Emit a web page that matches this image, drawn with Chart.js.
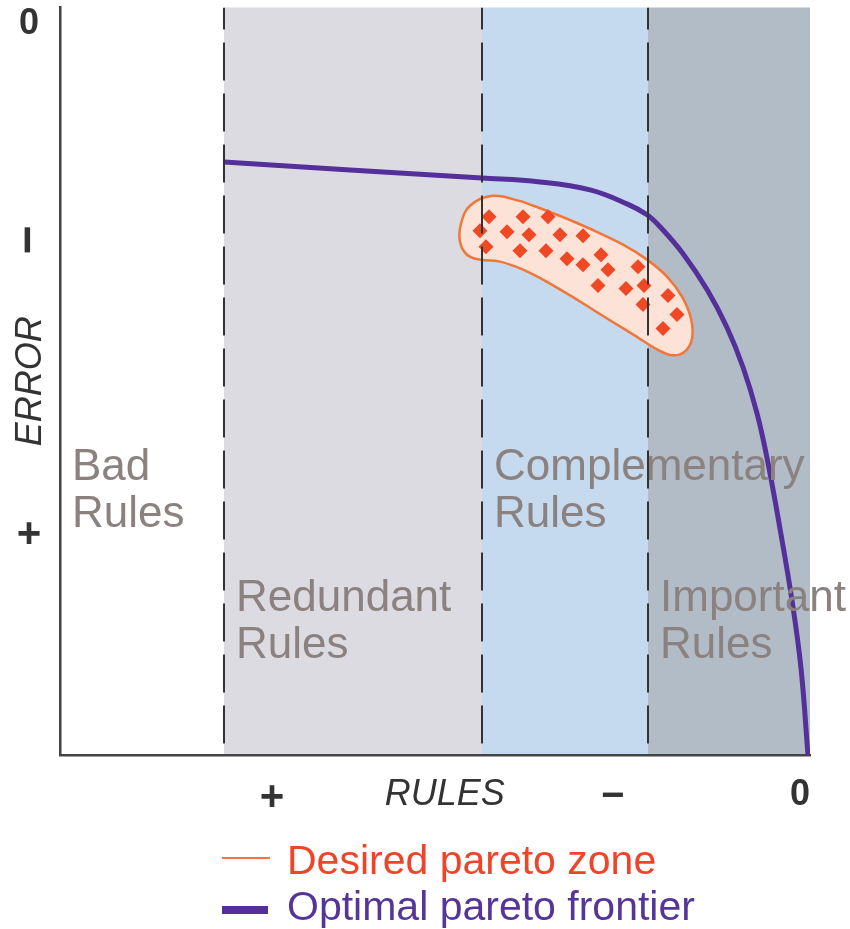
<!DOCTYPE html>
<html>
<head>
<meta charset="utf-8">
<script src="https://cdn.jsdelivr.net/npm/chart.js@4/dist/chart.umd.min.js"></script>
<style>
  body { margin: 0; background: #fff; }
  #wrap { width: 850px; height: 929px; }
</style>
</head>
<body>
<div id="wrap"><canvas id="paretoChart" width="850" height="929"></canvas></div>
<script>
// zones along the RULES axis (0 = left edge, 100 = right edge)
const zoneEdges = [0, 21.87, 56.27, 78.4, 100];
const zoneNames = [['Bad', 'Rules'], ['Redundant', 'Rules'], ['Complementary', 'Rules'], ['Important', 'Rules']];
const zoneLabelY = [38.4, 20.9, 38.4, 20.9];
const dividers = [21.87, 56.27, 78.4];

// tick labels
const xTickValues = [28.27, 51.3, 73.7, 98.67];
const xTickLabels = ['+', 'RULES', '\u2212', '0'];
const yTickValues = [98, 68.9, 29.6];
const yTickLabels = ['0', '\u2212', '+'];

// optimal pareto frontier
const frontierX = [21.87, 38.67, 56.27, 64, 70.67, 75.6, 78.27, 80, 83.07, 86.27, 88.93, 91.07, 92.93, 94.4, 96, 97.6, 98.8, 99.73];
const frontierY = [79.33, 78.27, 77.2, 76.67, 75.6, 73.73, 72.27, 70.67, 67.07, 62.27, 57.2, 51.87, 45.73, 39.07, 30.27, 20.67, 11.6, 0];

// desired pareto zone outline (closed)
const zoneOutlineX = [61.73, 66.27, 70.67, 75.07, 78.27, 80.93, 82.93, 84.13, 84.27, 83.33, 81.73, 79.6, 76.4, 72.93, 69.33, 65.33, 61.73, 58.67, 56, 54.27, 53.33, 53.47, 54.67, 57.73, 61.73];
const zoneOutlineY = [74, 72.27, 70.4, 68.27, 66.27, 64, 61.33, 58.4, 55.73, 54, 53.47, 54.27, 56.27, 58.4, 60.67, 63.07, 64.93, 66, 66.27, 66.93, 68.67, 71.07, 73.47, 74.8, 74];

// rule sets inside the desired zone
const ruleX = [57.2, 61.73, 65.07, 56, 59.6, 62.53, 66.67, 69.73, 56.8, 61.33, 64.8, 67.6, 69.73, 72.13, 73.07, 77.07, 71.73, 75.47, 77.87, 77.73, 81.07, 82.27, 80.4];
const ruleY = [72, 72, 72, 70.13, 70, 69.6, 69.6, 69.47, 68, 67.47, 67.47, 66.4, 65.6, 66.93, 64.93, 65.33, 62.8, 62.4, 62.8, 60.27, 61.47, 58.93, 57.07];

const zoneColors = ['rgba(0,0,0,0)', '#dcdbe1', '#c5daee', '#b1bcc7'];
const FONT = "'Liberation Sans', Arial, sans-serif";

const toPoints = (xs, ys) => xs.map((x, i) => ({ x: x, y: ys[i] }));

const paretoPlugin = {
    id: 'pareto',
    beforeDraw(chart) {
        const { ctx, chartArea: a, scales: { x } } = chart;
        ctx.save();
        zoneColors.forEach((c, i) => {
            const l = x.getPixelForValue(zoneEdges[i]);
            const r = x.getPixelForValue(zoneEdges[i + 1]);
            ctx.fillStyle = c;
            ctx.fillRect(l, a.top, r - l, a.bottom - a.top);
        });
        ctx.restore();
    },
    afterDatasetDraw(chart, args) {
        // zone names sit above the curve but under the dashed dividers
        if (args.meta.label !== 'Rule sets') return;
        const { ctx, scales: { x, y } } = chart;
        ctx.save();
        ctx.font = '44px ' + FONT;
        ctx.fillStyle = '#8b817f';
        ctx.textBaseline = 'middle';
        zoneNames.forEach((lines, i) => {
            const px = x.getPixelForValue(zoneEdges[i]) + 12;
            const py = y.getPixelForValue(zoneLabelY[i]);
            lines.forEach((t, j) => ctx.fillText(t, px, py + j * 47));
        });
        ctx.restore();
    },
    afterDraw(chart) {
        const { ctx, scales: { y } } = chart;
        ctx.save();
        // y tick labels (the minus is written sideways like the axis title)
        ctx.fillStyle = '#333';
        ctx.textAlign = 'center';
        ctx.textBaseline = 'middle';
        y.ticks.forEach((t) => {
            const py = y.getPixelForValue(t.value);
            if (t.label === '\u2212') {
                ctx.save();
                ctx.translate(30, py);
                ctx.rotate(-Math.PI / 2);
                ctx.font = 'bold 50px ' + FONT;
                ctx.fillText(t.label, 0, 0);
                ctx.restore();
            } else {
                ctx.font = (t.label === '+' ? 'bold 42px ' : 'bold 36px ') + FONT;
                ctx.fillText(t.label, 29, py + 2);
            }
        });

        // legend
        const blob = chart.data.datasets[0];
        const front = chart.data.datasets[1];
        ctx.textAlign = 'left';
        ctx.font = '41px ' + FONT;
        ctx.lineCap = 'butt';
        ctx.strokeStyle = blob.borderColor;
        ctx.lineWidth = 2;
        ctx.beginPath(); ctx.moveTo(222, 858); ctx.lineTo(270, 858); ctx.stroke();
        ctx.fillStyle = '#f0442a';
        ctx.fillText(blob.label, 287, 863);
        ctx.strokeStyle = front.borderColor;
        ctx.lineWidth = 8;
        ctx.beginPath(); ctx.moveTo(222, 910); ctx.lineTo(268, 910); ctx.stroke();
        ctx.fillStyle = '#55359a';
        ctx.fillText(front.label, 287, 909);
        ctx.restore();
    }
};

const datasets = [
    {
        type: 'line',
        label: 'Desired pareto zone',
        data: toPoints(zoneOutlineX, zoneOutlineY),
        borderColor: '#f0763a',
        borderWidth: 2.5,
        backgroundColor: '#fde2d7',
        fill: 'shape',
        tension: 0.4,
        pointRadius: 0,
        order: 4
    },
    {
        type: 'line',
        label: 'Optimal pareto frontier',
        data: toPoints(frontierX, frontierY),
        borderColor: '#55309a',
        borderWidth: 5,
        tension: 0.4,
        fill: false,
        pointRadius: 0,
        order: 3
    },
    {
        type: 'scatter',
        label: 'Rule sets',
        data: toPoints(ruleX, ruleY),
        pointStyle: 'rectRot',
        pointRadius: 7.5,
        backgroundColor: '#ee4824',
        borderWidth: 0,
        order: 2
    }
];

dividers.forEach((d) => {
    datasets.push({
        type: 'line',
        label: 'divider',
        data: [{ x: d, y: 100 }, { x: d, y: 0 }],
        borderColor: '#333',
        borderWidth: 2,
        borderDash: [38, 13],
        borderDashOffset: 16,
        pointRadius: 0,
        fill: false,
        order: 1
    });
});

new Chart(document.getElementById('paretoChart'), {
    type: 'scatter',
    data: { datasets: datasets },
    options: {
        responsive: false,
        animation: false,
        layout: { padding: { top: 5, right: 40, left: 0, bottom: 0 } },
        plugins: {
            legend: { display: false },
            tooltip: { enabled: false }
        },
        scales: {
            x: {
                type: 'linear',
                min: 0,
                max: 100,
                bounds: 'data',
                grid: { display: false },
                border: { display: true, color: '#444', width: 2.5 },
                afterBuildTicks: (s) => { s.ticks = xTickValues.map((v) => ({ value: v })); },
                afterFit: (s) => { s.height = 174; },
                ticks: {
                    autoSkip: false,
                    maxRotation: 0,
                    padding: 10,
                    color: '#333',
                    callback: (v, i) => xTickLabels[i],
                    font: (c) => {
                        const l = xTickLabels[c.index];
                        if (l === 'RULES') return { family: FONT, size: 36, style: 'italic' };
                        if (l === '+') return { family: FONT, size: 42, weight: 'bold' };
                        if (l === '0') return { family: FONT, size: 36, weight: 'bold' };
                        return { family: FONT, size: 40, weight: 'bold' };
                    }
                }
            },
            y: {
                type: 'linear',
                min: 0,
                max: 100,
                bounds: 'data',
                grid: { display: false },
                border: { display: true, color: '#444', width: 2.5 },
                afterBuildTicks: (s) => { s.ticks = yTickValues.map((v) => ({ value: v })); },
                afterFit: (s) => { s.width = 60; },
                ticks: {
                    display: false,
                    callback: (v, i) => yTickLabels[i]
                },
                title: {
                    display: true,
                    text: 'ERROR',
                    color: '#333',
                    padding: { top: 9, bottom: 0 },
                    font: { family: FONT, size: 36, style: 'italic' }
                }
            }
        }
    },
    plugins: [paretoPlugin]
});
</script>
</body>
</html>
